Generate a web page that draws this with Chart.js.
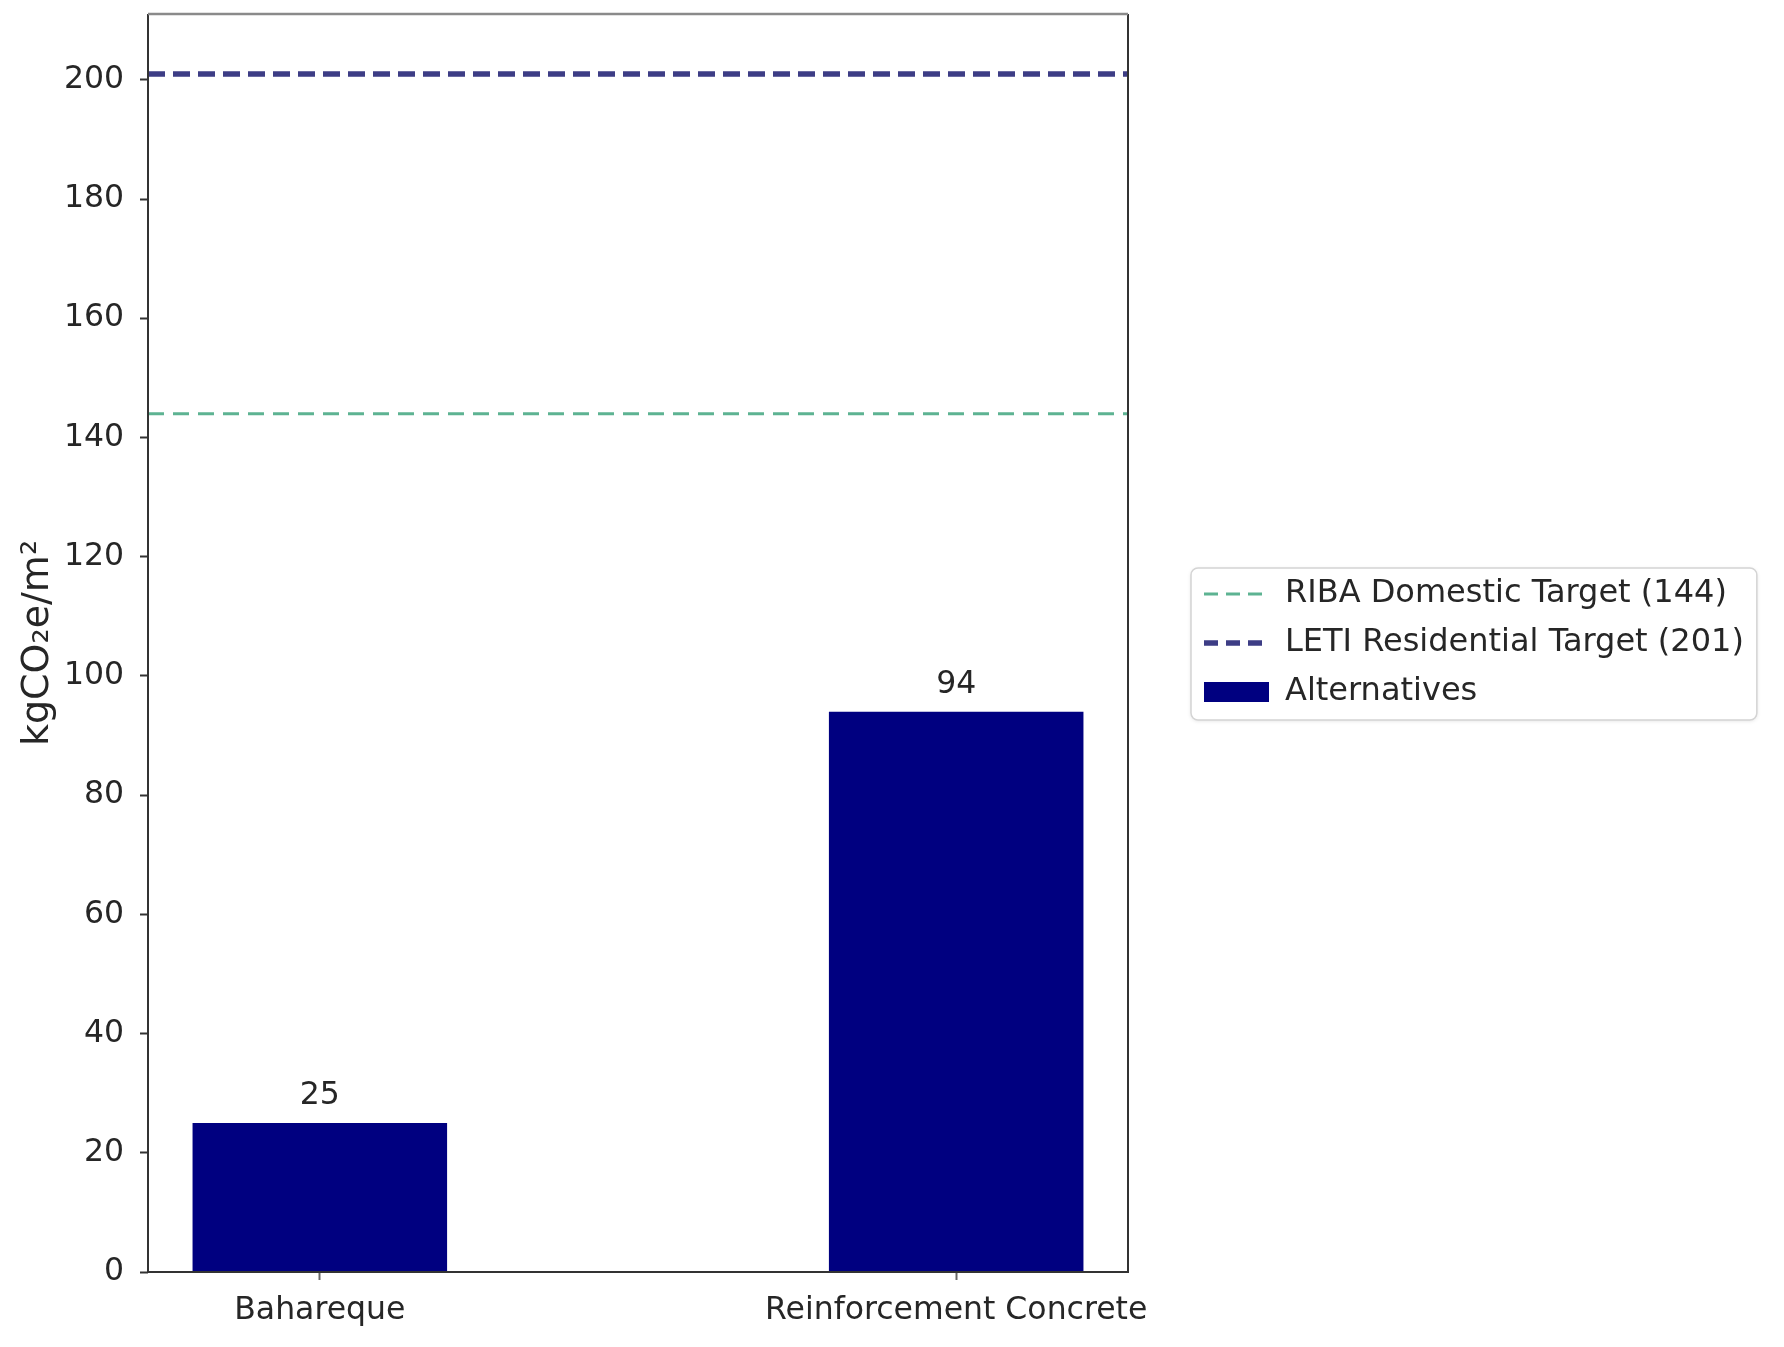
<!DOCTYPE html>
<html>
<head>
<meta charset="utf-8">
<script src="https://cdn.jsdelivr.net/npm/chart.js@4.4.1/dist/chart.umd.min.js"></script>
<style>
  html, body { margin: 0; padding: 0; background: #fff; }
  #wrap { width: 1784px; height: 1347px; }
</style>
</head>
<body>
<div id="wrap"><canvas id="chart" width="1784" height="1347"></canvas></div>
<script>
// --- data ---
const categories = ["Bahareque", "Reinforcement Concrete"];
const alternatives = [25, 94];
const ribaTarget = [144, 144];
const letiTarget = [201, 201];
const xRange = [-0.27, 1.27];
const yTicks = [0, 20, 40, 60, 80, 100, 120, 140, 160, 180, 200];
const yMax = 211.05;
const legendNames = [
  "RIBA Domestic Target (144)",
  "LETI Residential Target (201)",
  "Alternatives",
];

// --- look ---
const FONT = "'DejaVu Sans', sans-serif";
const TXT = "#262626";
const FS = 31.5;
const LEG_FS = 32;
const LEG_PAD = 17;
const HANDLE_W = 65;
const PLOT_LEFT = 148;
const PLOT_RIGHT = 1128;
const LEGEND_ITEM_X = 1204;

// legend width is measured so the plot area ends where it does in the picture
const mctx = document.createElement("canvas").getContext("2d");
mctx.font = `${LEG_FS}px ${FONT}`;
const textW = Math.max(...legendNames.map((t) => mctx.measureText(t).width));
const legendW = Math.ceil(LEG_PAD + HANDLE_W + LEG_FS / 2 + textW) + 2;
const padRight = Math.max(0, 1784 - PLOT_RIGHT - legendW);

const layoutFix = {
  id: "layoutFix",
  afterLayout(chart) {
    // matplotlib puts the legend box right of the axes, centred on them
    const lg = chart.legend;
    const a = chart.chartArea;
    lg.left = LEGEND_ITEM_X - LEG_PAD;
    lg.right = lg.left + lg.width;
    lg.top = a.top;
    lg.bottom = a.bottom;
    lg.height = a.bottom - a.top;
  },
  beforeDraw(chart) {
    // legend frame, like matplotlib's rounded box
    const boxes = chart.legend.legendHitBoxes;
    if (!boxes || !boxes.length) return;
    const ctx = chart.ctx;
    const left = Math.min(...boxes.map((b) => b.left)) - 13;
    const right = Math.max(...boxes.map((b) => b.left + b.width)) + 13;
    const top = boxes[0].top - 10;
    const last = boxes[boxes.length - 1];
    const bottom = last.top + last.height + 12;
    ctx.save();
    ctx.shadowColor = "rgba(0,0,0,0.12)";
    ctx.shadowBlur = 4;
    ctx.shadowOffsetY = 1;
    ctx.beginPath();
    ctx.roundRect(left, top, right - left, bottom - top, 7);
    ctx.fillStyle = "#ffffff";
    ctx.fill();
    ctx.shadowColor = "transparent";
    ctx.strokeStyle = "#d4d4d4";
    ctx.lineWidth = 1.5;
    ctx.stroke();
    ctx.restore();
  },
  afterDatasetsDraw(chart) {
    const ctx = chart.ctx;
    const a = chart.chartArea;
    ctx.save();
    // axes frame
    ctx.lineWidth = 2;
    ctx.strokeStyle = "#333";
    ctx.beginPath();
    ctx.moveTo(a.left, a.top);
    ctx.lineTo(a.left, a.bottom);
    ctx.lineTo(a.right, a.bottom);
    ctx.lineTo(a.right, a.top);
    ctx.stroke();
    ctx.strokeStyle = "#8a8a8a";
    ctx.lineWidth = 2.5;
    ctx.beginPath();
    ctx.moveTo(a.left, a.top);
    ctx.lineTo(a.right, a.top);
    ctx.stroke();
    // value labels above bars
    const meta = chart.getDatasetMeta(2);
    ctx.fillStyle = TXT;
    ctx.font = `${FS}px ${FONT}`;
    ctx.textAlign = "center";
    ctx.textBaseline = "middle";
    meta.data.forEach((el, i) => {
      ctx.fillText(String(alternatives[i]), el.x, el.y - 27);
    });
    ctx.restore();
  },
};

const ctx = document.getElementById("chart").getContext("2d");
new Chart(ctx, {
  type: "bar",
  data: {
    datasets: [
      {
        type: "line",
        label: legendNames[0],
        data: xRange.map((x, i) => ({ x, y: ribaTarget[i] })),
        borderColor: "#5db392",
        backgroundColor: "#5db392",
        borderWidth: 3,
        borderDash: [16, 9],
        pointRadius: 0,
        pointStyle: "line",
        fill: false,
      },
      {
        type: "line",
        label: legendNames[1],
        data: xRange.map((x, i) => ({ x, y: letiTarget[i] })),
        borderColor: "#3d3d85",
        backgroundColor: "#3d3d85",
        borderWidth: 5.5,
        borderDash: [17, 8],
        pointRadius: 0,
        pointStyle: "line",
        fill: false,
      },
      {
        type: "bar",
        label: legendNames[2],
        data: categories.map((c, i) => ({ x: i, y: alternatives[i] })),
        backgroundColor: "#000080",
        borderWidth: 0,
        barPercentage: 0.4,
        categoryPercentage: 1,
        pointStyle: "rect",
      },
    ],
  },
  options: {
    responsive: false,
    animation: false,
    devicePixelRatio: 1,
    layout: { padding: { top: 14, right: padRight, bottom: 0, left: 0 } },
    plugins: {
      legend: {
        position: "right",
        maxWidth: legendW,
        labels: {
          usePointStyle: true,
          pointStyleWidth: HANDLE_W,
          boxHeight: 20,
          padding: LEG_PAD,
          color: TXT,
          font: { family: FONT, size: LEG_FS },
          generateLabels(chart) {
            const items = Chart.defaults.plugins.legend.labels.generateLabels(chart);
            items.forEach((it) => {
              const ds = chart.data.datasets[it.datasetIndex];
              if (ds.borderDash) {
                it.lineDash = [14, 8];
                it.lineWidth = ds.borderWidth;
                it.strokeStyle = ds.borderColor;
                it.lineCap = "butt";
              }
            });
            return items;
          },
        },
      },
      tooltip: { enabled: false },
    },
    scales: {
      x: {
        type: "linear",
        min: xRange[0],
        max: xRange[1],
        offset: false,
        afterBuildTicks: (s) => {
          s.ticks = categories.map((c, i) => ({ value: i }));
        },
        afterFit: (s) => {
          s.height = 75;
          s.paddingLeft = 0;
          s.paddingRight = 0;
        },
        ticks: {
          callback: (v) => categories[v],
          color: TXT,
          font: { family: FONT, size: FS },
          padding: 12,
          maxRotation: 0,
          autoSkip: false,
        },
        grid: {
          offset: false,
          drawOnChartArea: false,
          tickLength: 8,
          tickWidth: 2,
          tickColor: "#666",
        },
        border: { display: false },
      },
      y: {
        min: 0,
        max: yMax,
        afterBuildTicks: (s) => {
          s.ticks = yTicks.map((v) => ({ value: v }));
        },
        afterFit: (s) => {
          s.width = PLOT_LEFT;
          s.paddingTop = 0;
          s.paddingBottom = 0;
        },
        ticks: {
          color: TXT,
          font: { family: FONT, size: FS },
          padding: 16,
        },
        grid: {
          drawOnChartArea: false,
          tickLength: 8,
          tickWidth: 2,
          tickColor: "#333",
        },
        border: { display: false },
        title: {
          display: true,
          text: "kgCO₂e/m²",
          color: TXT,
          font: { family: FONT, size: 38 },
          padding: { top: 15, bottom: 0 },
        },
      },
    },
  },
  plugins: [layoutFix],
});
</script>
</body>
</html>
